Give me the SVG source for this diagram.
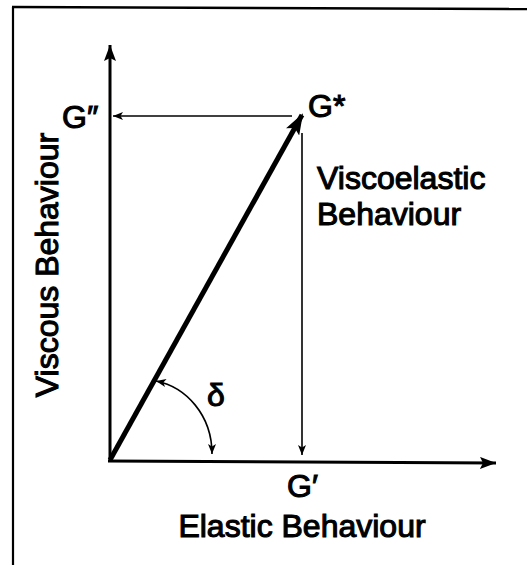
<svg xmlns="http://www.w3.org/2000/svg" width="527" height="565" viewBox="0 0 527 565">
<style>
text{font-family:"Liberation Sans",Arial,sans-serif;font-size:32px;fill:#000;stroke:#000;stroke-width:1.1}
.thin{stroke:#000;stroke-width:1.6;fill:none}
.axis{stroke:#000;stroke-width:3;fill:none}
</style>
<defs>
<marker id="ah" viewBox="0 0 10 10" refX="10" refY="5" markerWidth="11" markerHeight="10" markerUnits="userSpaceOnUse" orient="auto-start-reverse">
<path d="M0,1 L10,5 L0,9 L2.5,5 Z" fill="#000"/>
</marker>
<marker id="axh" viewBox="0 0 16 12" refX="16" refY="6" markerWidth="16" markerHeight="12" markerUnits="userSpaceOnUse" orient="auto">
<path d="M0,0 L16,6 L0,12 L3,6 Z" fill="#000"/>
</marker>
<marker id="bigh" viewBox="0 0 20 14" refX="18" refY="7" markerWidth="22" markerHeight="15" markerUnits="userSpaceOnUse" orient="auto">
<path d="M0,0 L20,7 L0,14 L4,7 Z" fill="#000"/>
</marker>
</defs>
<rect width="527" height="565" fill="#fff"/>
<g id="frame" stroke="#000" fill="none">
<path d="M13,565 L13,7" stroke-width="2.2"/>
<path d="M12,7 L527,9" stroke-width="2.6"/>
</g>
<g id="connectors">
<path class="axis" d="M110,461 L110,45" marker-end="url(#axh)"/>
<path class="axis" d="M108,461 L496,463" marker-end="url(#axh)"/>
<path d="M110,460 L302,115" stroke="#000" stroke-width="5" fill="none" marker-end="url(#bigh)"/>
<path class="thin" d="M292,116 L113,116" marker-end="url(#ah)"/>
<path class="thin" d="M302,133 L302,455" marker-end="url(#ah)"/>
<path class="thin" d="M156,381 C186,387 212,415 212,454" marker-start="url(#ah)" marker-end="url(#ah)"/>
</g>
<g id="labels">
<text x="62" y="128">G″</text>
<text x="308" y="117">G*</text>
<text x="317" y="189">Viscoelastic</text>
<text x="317" y="225">Behaviour</text>
<text x="207" y="406">δ</text>
<text x="287" y="497">G′</text>
<text x="302" y="537" text-anchor="middle">Elastic Behaviour</text>
<text transform="translate(58,265) rotate(-90)" text-anchor="middle">Viscous Behaviour</text>
</g>
</svg>
